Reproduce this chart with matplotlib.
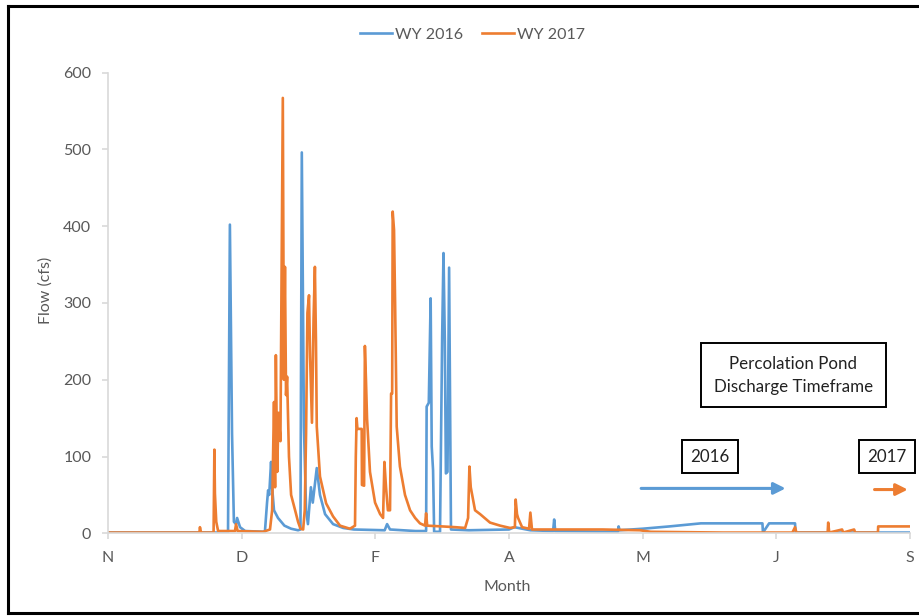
import matplotlib as mpl
import matplotlib.pyplot as plt
from matplotlib.lines import Line2D

plt.rcParams["font.family"] = ["Lato", "DejaVu Sans"]

# x = days since start of water year axis (N=0, S=300), y = flow (cfs)
wy2016_day = [0, 44.9, 45.6, 46.4, 47.1, 47.9, 48.3, 49.4, 51.3, 58.7,
              59.5, 59.9, 60.3, 61.0, 61.4, 62.1, 63.6, 66.0, 68.5, 71.1,
              72.0, 72.5, 73.3, 74.1, 74.8, 75.9, 76.6, 78.1, 79.3, 81.2,
              84.2, 88.0, 92.0, 103.5, 104.4, 105.5, 115.0, 119.0, 119.2, 120.0,
              120.7, 121.1, 121.6, 122.0, 124.2, 125.0, 125.5, 126.0, 126.4, 127.0,
              127.6, 128.3, 135.0, 150.0, 152.0, 158.0, 166.5, 166.9, 167.3, 185.0,
              190.7, 191.0, 191.4, 200.0, 210.0, 221.8, 244.8, 245.0, 247.3, 257.0,
              257.2, 300.0]
wy2016_flow = [1, 1, 402, 130, 15, 12, 20, 8, 3, 2,
               40, 56, 50, 93, 60, 30, 20, 10, 6, 4,
               5, 496, 139, 30, 12, 60, 40, 85, 50, 25,
               12, 7, 5, 4, 12, 5, 3, 3, 165, 170,
               306, 113, 82, 2, 2, 256, 365, 250, 78, 80,
               346, 5, 4, 5, 8, 4, 3, 18, 3, 2,
               2, 9, 4, 6, 9, 13, 13, 1, 13, 13,
               1, 1]

wy2017_day = [0, 34.2, 34.4, 34.8, 39.5, 39.8, 40.0, 40.5, 41.2, 47.5,
              47.9, 48.5, 58.0, 60.6, 61.4, 62.1, 62.5, 62.8, 63.3, 63.8,
              64.5, 65.4, 65.8, 66.2, 66.6, 67.0, 67.7, 68.5, 70.0, 71.1,
              72.0, 73.0, 73.6, 74.1, 74.6, 75.2, 75.6, 76.3, 76.9, 77.4,
              77.8, 78.1, 79.3, 81.6, 84.2, 86.8, 90.5, 92.4, 92.7, 93.0,
              93.3, 94.9, 95.0, 95.8, 96.1, 96.5, 96.9, 98.0, 99.9, 101.8,
              102.9, 103.4, 104.0, 104.7, 105.5, 105.9, 106.3, 106.5, 107.0, 107.4,
              108.0, 109.2, 111.1, 113.0, 114.9, 116.7, 118.6, 119.0, 119.4, 125.0,
              130.0, 133.6, 134.7, 135.2, 135.7, 137.3, 139.2, 142.9, 146.7, 150.4,
              152.2, 152.5, 153.0, 153.4, 154.9, 157.5, 158.0, 158.6, 170.0, 185.0,
              199.0, 203.0, 230.0, 256.0, 257.0, 257.5, 269.2, 269.4, 269.8, 274.6,
              275.0, 279.1, 279.5, 288.0, 288.1, 300.0]
wy2017_flow = [1, 1, 8, 1, 1, 109, 52, 15, 3, 3,
               12, 3, 2, 5, 30, 171, 60, 232, 80, 157,
               120, 567, 200, 347, 180, 204, 100, 50, 30, 15,
               6, 5, 30, 130, 287, 310, 230, 144, 280, 347,
               250, 139, 74, 39, 22, 10, 6, 10, 100, 150,
               136, 136, 63, 62, 244, 200, 150, 80, 40, 25,
               20, 93, 60, 30, 30, 182, 182, 419, 395, 300,
               139, 87, 50, 30, 20, 13, 10, 26, 10, 9,
               8, 7, 20, 87, 60, 30, 25, 14, 10, 7,
               8, 44, 25, 20, 8, 6, 27, 5, 5, 5,
               4, 2, 1, 1, 8, 1, 1, 14, 1, 5,
               1, 5, 1, 1, 9, 9]

month_ticks = [0, 50, 100, 150, 200, 250, 300]
month_labels = ["N", "D", "F", "A", "M", "J", "S"]

blue = "#5b9bd5"
orange = "#ed7d31"
grey = "#595959"

fig = plt.figure(figsize=(9.19, 6.16), dpi=100)
ax = fig.add_axes([0.1175, 0.1342, 0.8727, 0.748])

ax.plot(wy2016_day, wy2016_flow, color=blue, lw=1.9, label="WY 2016")
ax.plot(wy2017_day, wy2017_flow, color=orange, lw=1.9, label="WY 2017")

ax.set_xlim(0, 300)
ax.set_ylim(0, 600)
ax.set_xticks(month_ticks)
ax.set_xticklabels(month_labels)
ax.set_yticks(range(0, 601, 100))

for s in ["top", "right"]:
    ax.spines[s].set_visible(False)
for s in ["left", "bottom"]:
    ax.spines[s].set_color("#d9d9d9")
    ax.spines[s].set_linewidth(1.2)
ax.tick_params(axis="both", colors="#d9d9d9", labelcolor=grey, labelsize=11.5,
               length=4, width=1.2)
ax.tick_params(axis="x", pad=9)
ax.tick_params(axis="y", pad=8)

fig.text(507 / 919, 1 - 587 / 616, "Month", ha="center", va="center",
         color=grey, fontsize=11.5)
fig.text(46 / 919, 1 - 290 / 616, "Flow (cfs)", ha="center", va="center",
         rotation=90, color=grey, fontsize=11.5)

fig.legend(loc="center", bbox_to_anchor=(0.514, 1 - 35 / 616), ncol=2,
           frameon=False, fontsize=11.5, labelcolor=grey, handlelength=2.0,
           handletextpad=0.2, columnspacing=1.2)

box = dict(boxstyle="square,pad=0.75", fc="white", ec="black", lw=1.4)
ax.text(256.4, 206, "Percolation Pond\nDischarge Timeframe", ha="center",
        va="center", fontsize=12.2, color="#222222", bbox=box, linespacing=1.55)
ax.text(225.2, 100, "2016", ha="center", va="center", fontsize=12.2,
        color="#222222", bbox=dict(boxstyle="square,pad=0.5", fc="white",
                                   ec="black", lw=1.4))
ax.text(291.5, 100, "2017", ha="center", va="center", fontsize=12.2,
        color="#222222", clip_on=False,
        bbox=dict(boxstyle="square,pad=0.5", fc="white", ec="black", lw=1.4))

ax.annotate("", xy=(254.5, 58.5), xytext=(198.4, 58.5),
            arrowprops=dict(arrowstyle="-|>,head_length=0.7,head_width=0.35",
                            color=blue, lw=2.2))
ax.annotate("", xy=(300.2, 57), xytext=(285.7, 57), annotation_clip=False,
            arrowprops=dict(arrowstyle="-|>,head_length=0.7,head_width=0.35",
                            color=orange, lw=2.2))

# outer frame of the screenshot
for xs, ys in [([0.009, 0.009], [0.005, 0.99]),
               ([0.009, 1.0], [0.99, 0.99]),
               ([0.009, 1.0], [0.005, 0.005])]:
    fig.add_artist(Line2D(xs, ys, color="black", lw=2.2,
                          transform=fig.transFigure))

plt.savefig("out.png", dpi=100)
plt.close("all")
